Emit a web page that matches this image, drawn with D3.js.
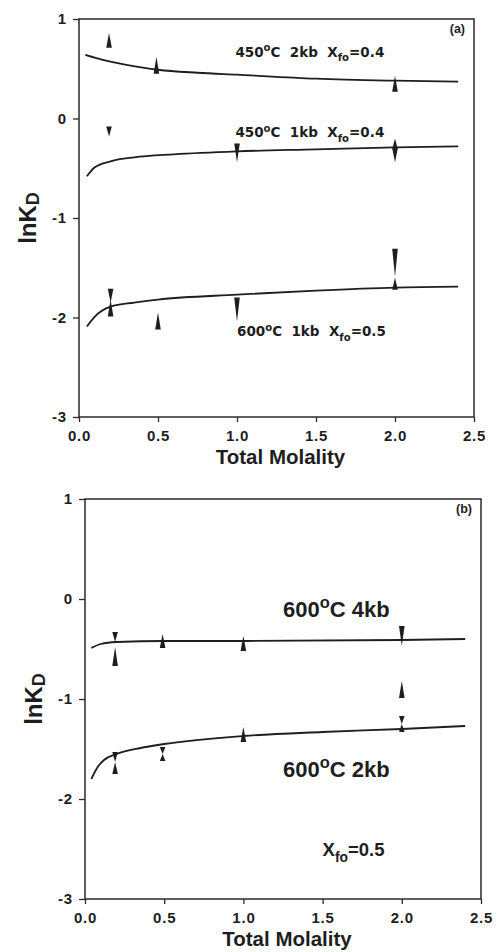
<!DOCTYPE html>
<html>
<head>
<meta charset="utf-8">
<script src="https://cdn.jsdelivr.net/npm/d3@7"></script>
<style>
body { margin: 0; background: #fff; }
text { font-family: 'Liberation Sans', Arial, sans-serif; font-weight: bold; fill: #1e1e1e; white-space: pre; }
</style>
</head>
<body>
<svg></svg>
<script>
const xTicks = [0, 0.5, 1, 1.5, 2, 2.5];
const yTicks = [1, 0, -1, -2, -3];

// fitted curves, [total molality, lnKD]
const curve450_2kb = [[0.04, 0.64], [0.15, 0.59], [0.3, 0.54], [0.5, 0.49], [0.75, 0.46], [1.0, 0.44], [1.5, 0.40], [2.0, 0.38], [2.4, 0.37]];
const curve450_1kb = [[0.05, -0.58], [0.1, -0.49], [0.2, -0.43], [0.35, -0.39], [0.6, -0.36], [1.0, -0.33], [1.5, -0.31], [2.0, -0.29], [2.4, -0.28]];
const curve600_1kb = [[0.05, -2.09], [0.1, -1.99], [0.2, -1.89], [0.35, -1.85], [0.5, -1.82], [1.0, -1.77], [1.5, -1.73], [2.0, -1.70], [2.4, -1.69]];
const curve600_4kb = [[0.04, -0.49], [0.1, -0.45], [0.2, -0.43], [0.5, -0.42], [1.0, -0.42], [2.0, -0.41], [2.4, -0.40]];
const curve600_2kb = [[0.04, -1.80], [0.08, -1.68], [0.12, -1.61], [0.2, -1.55], [0.35, -1.49], [0.5, -1.45], [1.0, -1.37], [1.5, -1.33], [2.0, -1.30], [2.4, -1.27]];

// reversal wedges, [total molality, base lnKD, tip lnKD]
const marksA = [
	[0.19, 0.71, 0.86], [0.49, 0.45, 0.62], [2.0, 0.27, 0.43],
	[0.19, -0.08, -0.18], [1.0, -0.25, -0.44], [2.0, -0.31, -0.20], [2.0, -0.30, -0.44],
	[0.2, -1.71, -1.85], [0.2, -1.99, -1.82], [0.5, -2.12, -1.95], [1.0, -1.80, -2.04],
	[2.0, -1.31, -1.59], [2.0, -1.72, -1.60]
];
const marksB = [
	[0.19, -0.33, -0.43], [0.19, -0.67, -0.48], [0.49, -0.49, -0.35], [1.0, -0.52, -0.37],
	[2.0, -0.27, -0.47], [2.0, -0.99, -0.82],
	[0.19, -1.53, -1.63], [0.19, -1.75, -1.63], [0.49, -1.48, -1.55], [0.49, -1.62, -1.55],
	[1.0, -1.43, -1.28], [2.0, -1.17, -1.25], [2.0, -1.33, -1.25]
];

const width = 498;
const height = 952;

const svg = d3.select('svg')
	.attr('width', width)
	.attr('height', height)
	.attr('viewBox', [0, 0, width, height]);

svg.append('rect').attr('width', width).attr('height', height).attr('fill', '#fff');

// text with super/subscripts: parts = [[string, ''|'sup'|'sub'], ...]
function rich(g, x, y, size, parts, family, subShift) {
	const t = g.append('text')
		.attr('x', x)
		.attr('y', y)
		.style('font-size', size + 'px');
	if (family) t.style('font-family', family);
	const sub = subShift == null ? 0.32 : subShift;
	let shift = 0;
	parts.forEach(([s, k]) => {
		const target = k === 'sup' ? -0.42 * size : k === 'sub' ? sub * size : 0;
		t.append('tspan')
			.attr('dy', target - shift)
			.style('font-size', k ? (0.75 * size) + 'px' : null)
			.text(s);
		shift = target;
	});
	return t;
}

function panel(xr, yr, curves, marks, tag) {
	const x = d3.scaleLinear().domain([0, 2.5]).range(xr);
	const y = d3.scaleLinear().domain([-3, 1]).range(yr);
	const g = svg.append('g');

	g.append('rect')
		.attr('x', xr[0])
		.attr('y', yr[1])
		.attr('width', xr[1] - xr[0])
		.attr('height', yr[0] - yr[1])
		.attr('fill', 'none')
		.attr('stroke', '#2a2a2a')
		.attr('stroke-width', 1.5);

	const xAxis = g.append('g')
		.attr('transform', 'translate(0,' + yr[0] + ')')
		.call(d3.axisBottom(x).tickValues(xTicks).tickFormat(d3.format('.1f')).tickSize(5).tickPadding(8));
	const yAxis = g.append('g')
		.attr('transform', 'translate(' + xr[0] + ',0)')
		.call(d3.axisLeft(y).tickValues(yTicks).tickFormat(d => d < 0 ? '-' + (-d) : d).tickSize(6).tickPadding(6));

	[xAxis, yAxis].forEach(a => {
		a.select('.domain').remove();
		a.selectAll('line').attr('stroke', '#2a2a2a').attr('stroke-width', 1.3);
		a.selectAll('text')
			.attr('fill', '#1e1e1e')
			.style('font-family', "'Liberation Sans', Arial, sans-serif")
			.style('font-weight', 'bold')
			.style('font-size', '15px')
			.style('letter-spacing', '0.8px');
	});

	const line = d3.line()
		.x(d => x(d[0]))
		.y(d => y(d[1]))
		.curve(d3.curveMonotoneX);

	g.selectAll('path.fit')
		.data(curves)
		.enter()
			.append('path')
			.attr('class', 'fit')
			.attr('d', line)
			.attr('fill', 'none')
			.attr('stroke', '#1e1e1e')
			.attr('stroke-width', 1.8);

	g.selectAll('path.mark')
		.data(marks)
		.enter()
			.append('path')
			.attr('class', 'mark')
			.attr('d', d => {
				const cx = x(d[0]);
				const yb = y(d[1]);
				const yt = y(d[2]);
				return 'M' + (cx - 2.8) + ',' + yb + 'L' + (cx + 2.8) + ',' + yb + 'L' + cx + ',' + yt + 'Z';
			})
			.attr('fill', '#1e1e1e');

	g.append('text')
		.attr('x', xr[1] - 9)
		.attr('y', yr[1] + 14)
		.attr('text-anchor', 'end')
		.style('font-size', '12.5px')
		.text(tag);

	g.append('text')
		.attr('x', (xr[0] + xr[1]) / 2 + 4)
		.attr('y', yr[0] + 47)
		.attr('text-anchor', 'middle')
		.style('font-size', '20.5px')
		.text('Total Molality');

	const yl = rich(g, 0, 0, 24, [['lnK', ''], ['D', 'sub']], null, 0.12);
	yl.attr('text-anchor', 'middle')
		.attr('transform', 'translate(' + (xr[0] - 43) + ',' + y(-1) + ') rotate(-90)');

	return { g, x, y };
}

const a = panel([79, 474], [417, 19], [curve450_2kb, curve450_1kb, curve600_1kb], marksA, '(a)');
const b = panel([85, 481], [899, 499], [curve600_4kb, curve600_2kb], marksB, '(b)');

const dv = "'DejaVu Sans', sans-serif";
rich(a.g, a.x(0.99), a.y(0.62), 13.5, [['450', ''], ['o', 'sup'], ['C  2kb  X', ''], ['fo', 'sub'], ['=0.4', '']], dv);
rich(a.g, a.x(0.99), a.y(-0.19), 13.5, [['450', ''], ['o', 'sup'], ['C  1kb  X', ''], ['fo', 'sub'], ['=0.4', '']], dv);
rich(a.g, a.x(1.0), a.y(-2.19), 13.5, [['600', ''], ['o', 'sup'], ['C  1kb  X', ''], ['fo', 'sub'], ['=0.5', '']], dv);

rich(b.g, b.x(1.25), b.y(-0.18), 22, [['600', ''], ['o', 'sup'], ['C 4kb', '']]);
rich(b.g, b.x(1.25), b.y(-1.78), 22, [['600', ''], ['o', 'sup'], ['C 2kb', '']]);
rich(b.g, b.x(1.5), b.y(-2.57), 18.5, [['X', ''], ['fo', 'sub'], ['=0.5', '']]);
</script>
</body>
</html>
